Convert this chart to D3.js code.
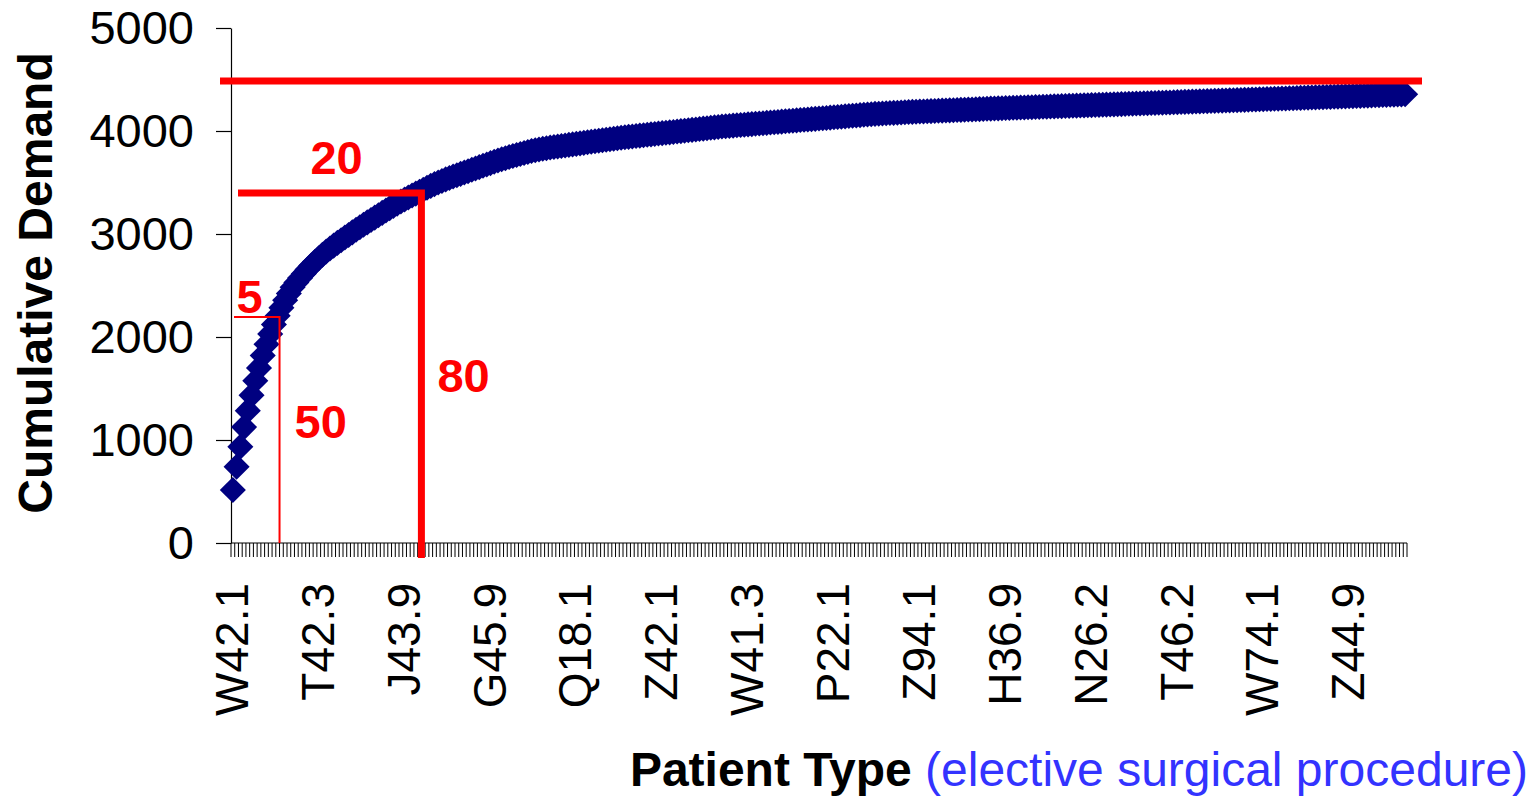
<!DOCTYPE html>
<html>
<head>
<meta charset="utf-8">
<script src="https://cdn.jsdelivr.net/npm/d3@7"></script>
<style>
  body { margin: 0; background: #fff; overflow: hidden; }
  text { font-family: "Liberation Sans", Arial, sans-serif; }
</style>
</head>
<body>
<script>
const width = 1537;
const height = 799;

// patient types sorted by demand, only every 23rd type is labelled on the axis
const tickLabels = ['W42.1', 'T42.3', 'J43.9', 'G45.9', 'Q18.1', 'Z42.1', 'W41.3',
                    'P22.1', 'Z94.1', 'H36.9', 'N26.2', 'T46.2', 'W74.1', 'Z44.9'];
const labelStep = 23;

const demand = [
  515, 225, 195, 190, 160, 150, 140, 125, 120, 110,
  100, 92, 85, 78, 72, 66, 60, 46, 44, 42,
  40, 38, 37, 35, 34, 31, 29, 28, 27, 26,
  26, 25, 25, 25, 24, 24, 24, 23, 23, 23,
  23, 23, 23, 22, 22, 20, 20, 19, 19, 19,
  19, 19, 19, 18, 17, 16, 15, 15, 14, 14,
  13, 13, 13, 13, 13, 13, 13, 13, 13, 13,
  13, 12, 12, 11, 11, 10, 10, 10, 10, 9,
  9, 8, 7, 7, 6, 6, 6, 5, 5, 5,
  5, 5, 5, 5, 5, 5, 5, 5, 5, 5,
  5, 5, 5, 5, 5,
  4, 4, 4, 4, 4, 4, 4, 4, 4, 4, 4, 4, 4, 4, 4, 4, 4, 4, 4, 4, 4, 4, 4, 4, 4, 4, 4,
  3, 3, 3, 3, 3, 3, 3, 3, 3, 3, 3, 3, 3, 3, 3, 3, 3, 3, 3, 3,
  3, 3, 3, 3, 3, 3, 3, 3, 3, 3, 3, 3, 3, 3, 3, 3, 3, 3, 3, 3, 3,
  2, 2, 2, 2, 2, 2, 2, 2, 2,
  1.5, 1.5, 1.5, 1.5, 1.5, 1.5, 1.5, 1.5, 1.5, 1.5, 1.5, 1.5,
  1.5, 1.5, 1.5, 1.5, 1.5, 1.5, 1.5, 1.5, 1.5, 1.5, 1.5, 1.5,
  1.25, 1.25, 1.25, 1.25, 1.25, 1.25, 1.25, 1.25, 1.25, 1.25,
  1.25, 1.25, 1.25, 1.25, 1.25, 1.25, 1.25, 1.25, 1.25, 1.25,
  1.25, 1.25, 1.25, 1.25, 1.25, 1.25, 1.25, 1.25, 1.25, 1.25,
  1.25, 1.25, 1.25, 1.25, 1.25, 1.25, 1.25, 1.25, 1.25, 1.25,
  1.25, 1.25, 1.25, 1.25, 1.25, 1.25, 1.25, 1.25, 1.25, 1.25,
  1.25, 1.25, 1.25, 1.25, 1.25, 1.25, 1.25, 1.25, 1.25, 1.25,
  1.25, 1.25, 1.25, 1.25, 1.25, 1.25, 1.25, 1.25, 1.25, 1.25,
  1.25, 1.25, 1.25, 1.25, 1.25, 1.25, 1.25, 1.25, 1.25, 1.25,
  1.25, 1.25, 1.25, 1.25, 1.25, 1.25, 1.25, 1.25, 1.25, 1.25,
  1.25, 1.25, 1.25, 1.25, 1.25, 1.25, 1.25, 1.25, 1.25, 1.25,
  1.25, 1.25, 1.25, 1.25, 1.25, 1.25, 1.25, 1.25, 1.25
];
const cumulative = Array.from(d3.cumsum(demand));

const yTicks = [0, 1000, 2000, 3000, 4000, 5000];

// red marker lines
const topLineValue = 4485;
const cutIndex = [13, 51];          // boundary after that many types
const cutValue = [2194, 3398];      // cumulative demand at the cut
const typeShare = ['5', '20'];      // % of patient types
const demandShare = ['50', '80'];   // % of demand

const svg = d3.select('body').append('svg')
  .attr('width', width)
  .attr('height', height);

svg.append('rect').attr('width', width).attr('height', height).attr('fill', '#fff');

const x = d3.scaleBand()
  .domain(d3.range(demand.length))
  .range([231, 1407]);

const y = d3.scaleLinear()
  .domain([0, 5000])
  .range([543, 28]);

const edge = i => 231 + i * x.step();   // category boundary
const mid = i => x(i) + x.bandwidth() / 2;

// y axis
const yAxis = svg.append('g')
  .attr('transform', 'translate(231,0)')
  .call(d3.axisLeft(y).tickValues(yTicks).tickFormat(d3.format('d'))
    .tickSize(15).tickPadding(22).tickSizeOuter(0));
yAxis.select('.domain').attr('stroke', '#000').attr('stroke-width', 1.2);
yAxis.selectAll('.tick line').attr('stroke', '#000').attr('stroke-width', 1.2);
yAxis.selectAll('.tick text')
  .attr('font-size', 47)
  .attr('font-family', '"Liberation Sans", Arial, sans-serif')
  .attr('fill', '#000');

// x axis line and the dense tick marks between categories
svg.append('line')
  .attr('x1', 231).attr('x2', 1407)
  .attr('y1', y(0)).attr('y2', y(0))
  .attr('stroke', '#000').attr('stroke-width', 1.2);

svg.append('g').selectAll('line')
  .data(d3.range(demand.length + 1))
  .enter().append('line')
  .attr('x1', d => edge(d)).attr('x2', d => edge(d))
  .attr('y1', y(0)).attr('y2', y(0) + 14)
  .attr('stroke', '#000')
  .attr('stroke-width', 1);

svg.append('g').selectAll('text')
  .data(tickLabels)
  .enter().append('text')
  .attr('transform', (d, i) => 'translate(' + (mid(i * labelStep) - 1) + ',583) rotate(-90)')
  .attr('text-anchor', 'end')
  .attr('dy', '0.35em')
  .attr('font-size', 46)
  .attr('fill', '#000')
  .text(d => d);

// the cumulative curve, one diamond per patient type
svg.append('g').selectAll('path')
  .data(cumulative)
  .enter().append('path')
  .attr('d', d3.symbol().type(d3.symbolSquare).size(340))
  .attr('transform', (d, i) => 'translate(' + mid(i) + ',' + y(d) + ') rotate(45)')
  .attr('fill', '#000080');

// red lines
const red = '#ff0000';
svg.append('line')
  .attr('x1', 220).attr('x2', 1422)
  .attr('y1', y(topLineValue)).attr('y2', y(topLineValue))
  .attr('stroke', red).attr('stroke-width', 7);

// thin 5 / 50 cut
svg.append('path')
  .attr('d', 'M' + 234 + ',' + y(cutValue[0]) + 'H' + edge(cutIndex[0]) + 'V' + y(0))
  .attr('fill', 'none').attr('stroke', red).attr('stroke-width', 2);

// thick 20 / 80 cut
svg.append('path')
  .attr('d', 'M' + 238 + ',' + y(cutValue[1]) + 'H' + edge(cutIndex[1]) + 'V' + (y(0) + 15))
  .attr('fill', 'none').attr('stroke', red).attr('stroke-width', 7)
  .attr('stroke-linejoin', 'miter');

const redText = (t, px, py) => svg.append('text')
  .attr('x', px).attr('y', py)
  .attr('font-size', 47).attr('font-weight', 'bold')
  .attr('fill', red)
  .text(t);

redText(typeShare[0], edge(cutIndex[0]) - 43, y(cutValue[0]) - 4);
redText(demandShare[0], edge(cutIndex[0]) + 15, 438);
redText(typeShare[1], edge(cutIndex[1]) - 111, y(cutValue[1]) - 19);
redText(demandShare[1], edge(cutIndex[1]) + 16, 392);

// axis titles
svg.append('text')
  .attr('transform', 'translate(52,283) rotate(-90)')
  .attr('text-anchor', 'middle')
  .attr('font-size', 48)
  .attr('font-weight', 'bold')
  .attr('fill', '#000')
  .text('Cumulative Demand');

const xTitle = svg.append('text')
  .attr('x', 1528).attr('y', 786)
  .attr('text-anchor', 'end')
  .attr('font-size', 48);
xTitle.append('tspan').attr('font-weight', 'bold').attr('fill', '#000').text('Patient Type ');
xTitle.append('tspan').attr('fill', '#3333ff').text('(elective surgical procedure)');
</script>
</body>
</html>
